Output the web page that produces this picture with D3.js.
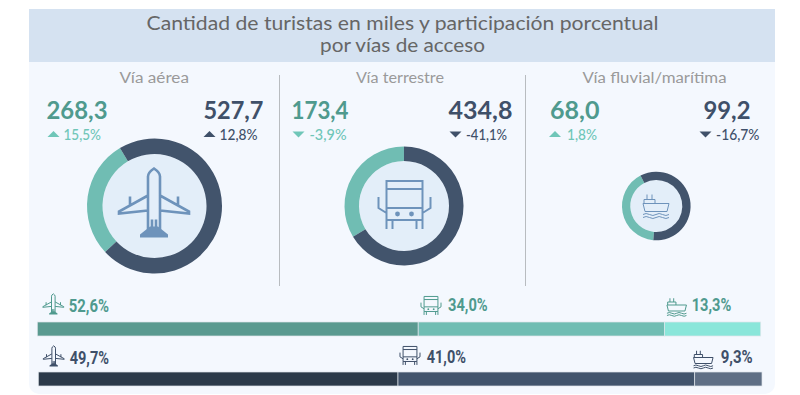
<!DOCTYPE html>
<html>
<head>
<meta charset="utf-8">
<script src="https://cdn.jsdelivr.net/npm/d3@7"></script>
<style>
html, body { margin: 0; padding: 0; background: #fff; }
svg { display: block; }
</style>
</head>
<body>
<svg id="chart" width="800" height="395"></svg>
<script>
const titleLines = ['Cantidad de turistas en miles y participación porcentual', 'por vías de acceso'];
const modes = ['Vía aérea', 'Vía terrestre', 'Vía fluvial/marítima'];
const icons = ['plane', 'truck', 'ship'];

const tealTotals = [268.3, 173.4, 68.0];
const darkTotals = [527.7, 434.8, 99.2];
const tealChanges = [15.5, -3.9, 1.8];
const darkChanges = [12.8, -41.1, -16.7];
// teal share of each ring as drawn in the picture (%)
const ringTealShares = [28.4, 33.6, 41];

const tealBarShares = [52.6, 34.0, 13.3];
const darkBarShares = [49.7, 41.0, 9.3];

const svg = d3.select('#chart');
const locale = d3.formatLocale({ decimal: ',', thousands: '.', grouping: [3], currency: ['', ''], minus: '-' });
const fmt = locale.format('.1f');

const TEAL = '#70bdb3', DARK = '#42546c', NUM_TEAL = '#4f9a8e', NUM_DARK = '#3f5069', PCT_TEAL = '#6fc6b8';
const HEAD_FONT = 'Lato, sans-serif';
const BAR_FONT = '"Liberation Sans Narrow", Roboto, sans-serif';

const iconPaths = {
    plane: {
        line: 'M-6,26V-27Q-6,-31 0,-35Q6,-31 6,-27V26M-6,-8L-35,8V10L-6,7M6,-8L35,8V10L6,7M-24,-7V3M24,-7V3M-2,25V16M2,25V16',
        solid: 'M-4,23L-14,31V34H14V31L4,23Z'
    },
    truck: {
        line: 'M-18,-24H18V15H-18ZM-18,-16H18M-18,3H18M-18,15V24M-12,15V24M18,15V24M12,15V24M-26,-8V3L-18,8M26,-8V3L18,8',
        dots: [[-7, 9], [7, 9]]
    },
    ship: {
        line: 'M-13,-2H13L11,6H-11ZM-12,-2V-6H-1V-2M-9,-6V-11M-4,-6V-11M-13,9Q-10,7 -6.500,9T0,9T6.500,9T13,9M-13,12Q-10,10 -6.500,12T0,12T6.500,12T13,12'
    }
};

const drawIcon = (name, x, y, scale, color, lineWidth) => {
    const g = svg.append('g').attr('transform', `translate(${x},${y}) scale(${scale})`);
    const icon = iconPaths[name];
    g.append('path')
        .attr('d', icon.line)
        .attr('fill', 'none')
        .attr('stroke', color)
        .attr('stroke-width', lineWidth)
        .attr('vector-effect', 'non-scaling-stroke');
    if (icon.solid) g.append('path').attr('d', icon.solid).attr('fill', color);
    (icon.dots || []).forEach(d => {
        g.append('circle').attr('cx', d[0]).attr('cy', d[1]).attr('r', 2.4).attr('fill', color);
    });
};

// text fitted to the width measured on the picture
const label = (str, x, y, width, size, weight, color, font) =>
    svg.append('text')
        .attr('x', x)
        .attr('y', y)
        .attr('textLength', width)
        .attr('lengthAdjust', 'spacingAndGlyphs')
        .attr('font-family', font || HEAD_FONT)
        .attr('font-size', size)
        .attr('font-weight', weight)
        .attr('fill', color)
        .text(str);

// panel and header
svg.append('rect').attr('x', 29).attr('y', 9).attr('width', 746).attr('height', 385).attr('rx', 10).attr('fill', '#f4f8fe');
svg.append('rect').attr('x', 29).attr('y', 9).attr('width', 746).attr('height', 53).attr('fill', '#d5e2f1');
label(titleLines[0], 146.5, 30, 512, 18.5, 400, '#666666');
label(titleLines[1], 320, 51.5, 165, 18.5, 400, '#666666');

// dividers
[279.5, 525.5].forEach(x => {
    svg.append('line').attr('x1', x).attr('x2', x).attr('y1', 75).attr('y2', 286).attr('stroke', '#b8bcc0').attr('stroke-width', 1);
});

// column headers and figures
const modeLayout = [
    { x: 119.5, w: 69.5, tealX: 46.5, tealW: 61, darkX: 203.5, darkW: 60 },
    { x: 356, w: 88, tealX: 291.5, tealW: 57, darkX: 448.5, darkW: 64 },
    { x: 582.5, w: 144, tealX: 550, tealW: 49.5, darkX: 703.5, darkW: 47 }
];
const changeLayout = [
    [{ tri: 47.5, text: 63.5, w: 37.5 }, { tri: 203.5, text: 219.5, w: 38 }],
    [{ tri: 292.5, text: 309.5, w: 37 }, { tri: 449.5, text: 466, w: 41 }],
    [{ tri: 549, text: 567, w: 30 }, { tri: 699.5, text: 716, w: 43.5 }]
];

const triangle = (x, change, color) => {
    const pts = change >= 0 ? [[x, 137], [x + 12, 137], [x + 6, 131]] : [[x, 131.500], [x + 12, 131.500], [x + 6, 137.500]];
    svg.append('path').attr('d', d3.line()(pts) + 'Z').attr('fill', color);
};

modes.forEach((mode, i) => {
    const l = modeLayout[i];
    label(mode, l.x, 82.5, l.w, 14.5, 400, '#9a9a9a');
    label(fmt(tealTotals[i]), l.tealX, 119, l.tealW, 24.5, 700, NUM_TEAL);
    label(fmt(darkTotals[i]), l.darkX, 119, l.darkW, 24.5, 700, NUM_DARK);
    const c = changeLayout[i];
    triangle(c[0].tri, tealChanges[i], PCT_TEAL);
    label(`${fmt(tealChanges[i])}%`, c[0].text, 140, c[0].w, 15.5, 500, PCT_TEAL);
    triangle(c[1].tri, darkChanges[i], NUM_DARK);
    label(`${fmt(darkChanges[i])}%`, c[1].text, 140, c[1].w, 15.5, 500, NUM_DARK);
});

// rings
const ringLayout = [
    { cx: 154.5, r: 67.5, inner: 52, start: 227, icon: 1, ix: 154, iy: 203.500, lw: 2.6 },
    { cx: 404, r: 59.5, inner: 45, start: 239, icon: 1, ix: 404.500, iy: 205, lw: 2 },
    { cx: 656.3, r: 34.3, inner: 26, start: 185, icon: 1, ix: 656, iy: 205.500, lw: 1 }
];

ringLayout.forEach((l, i) => {
    const start = l.start * Math.PI / 180;
    const pie = d3.pie().sort(null).startAngle(start).endAngle(start + 2 * Math.PI);
    const arc = d3.arc().innerRadius(l.inner).outerRadius(l.r);
    const g = svg.append('g').attr('transform', `translate(${l.cx},206)`);
    g.append('circle').attr('r', l.inner).attr('fill', '#e3eef9');
    g.selectAll('path')
        .data(pie([ringTealShares[i], 100 - ringTealShares[i]]))
        .join('path')
        .attr('d', arc)
        .attr('fill', (d, j) => [TEAL, DARK][j]);
    drawIcon(icons[i], l.ix, l.iy, l.icon, '#6e93bb', l.lw);
});

// share bars
const barRows = [
    {
        shares: tealBarShares, y: 322, range: [37.3, 760.7], colors: ['#5a9a90', '#70bdb3', '#8ae6da'],
        text: NUM_TEAL,
        labels: [{ x: 68.7, w: 40.3, y: 311.5 }, { x: 448, w: 39.7, y: 311 }, { x: 691.7, w: 39.6, y: 311 }],
        iconsAt: [[53.3, 304.3, .3], [431, 305.7, .385], [676.7, 306.5, .75]]
    },
    {
        shares: darkBarShares, y: 372, range: [38.3, 762], colors: ['#2c3a4a', '#42546c', '#5f6f85'],
        text: NUM_DARK,
        labels: [{ x: 69.7, w: 39.3, y: 364 }, { x: 426.7, w: 39.3, y: 362.7 }, { x: 720.7, w: 32, y: 362.7 }],
        iconsAt: [[53.7, 356.3, .3], [410, 355.7, .385], [703.3, 359, .75]]
    }
];

barRows.forEach(row => {
    const x = d3.scaleLinear().domain([0, d3.sum(row.shares)]).range(row.range);
    const ends = Array.from(d3.cumsum(row.shares));
    svg.append('g')
        .selectAll('rect')
        .data(row.shares)
        .join('rect')
        .attr('x', (d, i) => x(ends[i] - d))
        .attr('y', row.y)
        .attr('width', (d, i) => x(ends[i]) - x(ends[i] - d))
        .attr('height', 14)
        .attr('fill', (d, i) => row.colors[i])
        .attr('stroke', '#dfe6ec')
        .attr('stroke-width', .7);
    row.shares.forEach((d, i) => {
        const l = row.labels[i];
        const ic = row.iconsAt[i];
        drawIcon(icons[i], ic[0], ic[1], ic[2], row.text, 1);
        label(`${fmt(d)}%`, l.x, l.y, l.w, 18, 700, row.text, BAR_FONT);
    });
});
</script>
</body>
</html>
